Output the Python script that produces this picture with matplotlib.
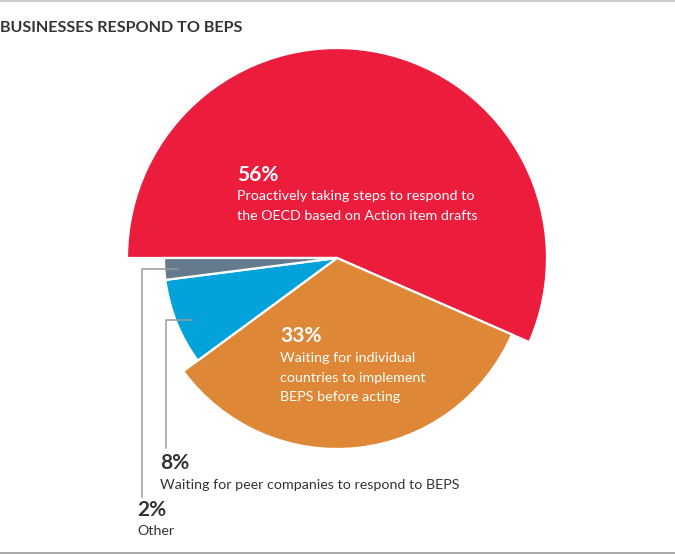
import matplotlib
matplotlib.use("Agg")
import matplotlib.pyplot as plt

# ---- data ----
categories = [
    "Proactively taking steps to respond to\nthe OECD based on Action item drafts",
    "Waiting for individual\ncountries to implement\nBEPS before acting",
    "Waiting for peer companies to respond to BEPS",
    "Other",
]
values = [56, 33, 8, 2]
pct_labels = ["56%", "33%", "8%", "2%"]
title = "BUSINESSES RESPOND TO BEPS"

colors = ["#EB1C3C", "#DE8736", "#03A2DB", "#657A8D"]
radii = [210, 191, 173, 173]

W, H = 675, 554
fig = plt.figure(figsize=(W / 100, H / 100), dpi=100)
ax = fig.add_axes([0, 0, 1, 1])

cx, cy = 337, H - 258
wedges, _ = ax.pie(values, startangle=180, counterclock=False, colors=colors,
                   center=(cx, cy), radius=1,
                   wedgeprops=dict(edgecolor="white", linewidth=1.6))
for w, r in zip(wedges, radii):
    w.set_radius(r)

ax.set_xlim(0, W)
ax.set_ylim(0, H)
ax.set_aspect("auto")
ax.axis("off")

font = "Lato"
dark = "#333333"

# frame lines
ax.plot([0, W], [H - 1, H - 1], color="#cccccc", lw=1.5, solid_capstyle="butt")
ax.plot([0, W], [H - 552.5, H - 552.5], color="#999999", lw=1.2, solid_capstyle="butt")

ax.text(0, H - 32, title, fontsize=11.6, fontweight="bold", family=font,
        color=dark, va="baseline", ha="left")


def label(x, pct_base, pct, text, first_base, color):
    ax.text(x, H - pct_base, pct, fontsize=15, fontweight="bold", family=font,
            color=color, va="baseline", ha="left")
    for i, line in enumerate(text.split("\n")):
        ax.text(x, H - (first_base + 19.7 * i), line, fontsize=10.3, family=font,
                color=color, va="baseline", ha="left")


label(237, 181, pct_labels[0], categories[0], 200, "white")
label(280, 342, pct_labels[1], categories[1], 362, "white")
label(160, 469, pct_labels[2], categories[2], 489, dark)
label(137, 516, pct_labels[3], categories[3], 535, dark)

# leader lines
lc = "#9a9a9a"
ax.plot([178, 142, 142], [H - 269, H - 269, H - 497], color=lc, lw=1.1)
ax.plot([192, 166, 166], [H - 320, H - 320, H - 448], color=lc, lw=1.1)

fig.savefig("out.png", dpi=100)
